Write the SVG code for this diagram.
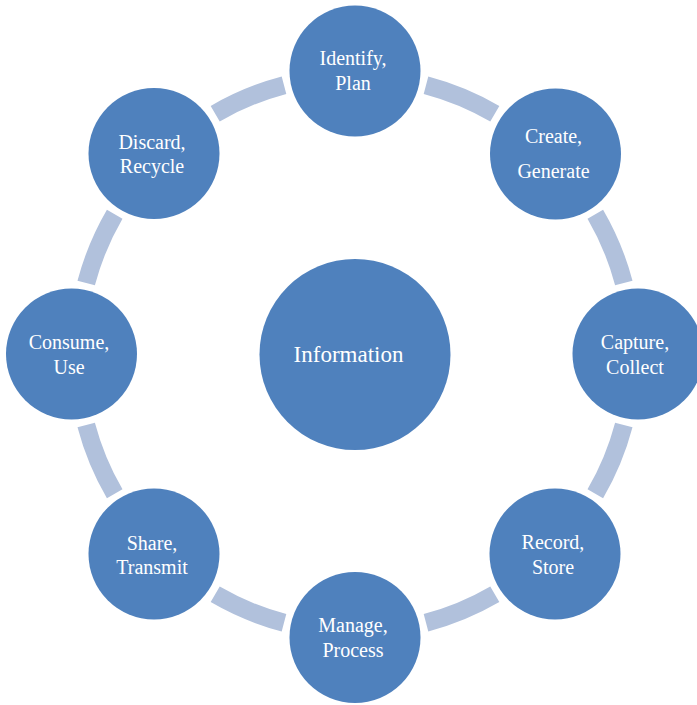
<svg xmlns="http://www.w3.org/2000/svg" width="697" height="705" viewBox="0 0 697 705">
<style>
.node{fill:#4F81BD;}
.arc{fill:none;stroke:#B1C1DC;stroke-width:18;stroke-linecap:butt;}
.lbl{font-family:"Liberation Serif","Times New Roman",serif;font-size:20px;fill:#FFFFFF;text-anchor:middle;}
.big{font-size:23px;}
</style>
<rect width="697" height="705" fill="#FFFFFF"/>
<g id="connectors">
<path class="arc" d="M426.0 85.2 A278 278 0 0 1 494.8 113.7"/>
<path class="arc" d="M595.3 214.2 A278 278 0 0 1 623.8 283.0"/>
<path class="arc" d="M623.8 425.0 A278 278 0 0 1 595.3 493.8"/>
<path class="arc" d="M494.8 594.3 A278 278 0 0 1 426.0 622.8"/>
<path class="arc" d="M284.0 622.8 A278 278 0 0 1 215.2 594.3"/>
<path class="arc" d="M114.7 493.8 A278 278 0 0 1 86.2 425.0"/>
<path class="arc" d="M86.2 283.0 A278 278 0 0 1 114.7 214.2"/>
<path class="arc" d="M215.2 113.7 A278 278 0 0 1 284.0 85.2"/>
</g>
<g id="information">
<circle class="node" cx="355" cy="354.5" r="95.5"/>
<text class="lbl big" x="348.5" y="361.5">Information</text>
</g>
<g id="identify">
<circle class="node" cx="355" cy="71" r="65.5"/>
<text class="lbl" x="353" y="65">Identify,</text>
<text class="lbl" x="353" y="90">Plan</text>
</g>
<g id="create">
<circle class="node" cx="555.5" cy="154" r="65.5"/>
<text class="lbl" x="553.5" y="143">Create,</text>
<text class="lbl" x="553.5" y="177.5">Generate</text>
</g>
<g id="capture">
<circle class="node" cx="638" cy="354" r="65.5"/>
<text class="lbl" x="635" y="349">Capture,</text>
<text class="lbl" x="635" y="373.5">Collect</text>
</g>
<g id="record">
<circle class="node" cx="555" cy="554" r="65.5"/>
<text class="lbl" x="553" y="549">Record,</text>
<text class="lbl" x="553" y="573.5">Store</text>
</g>
<g id="manage">
<circle class="node" cx="355" cy="637.5" r="65.5"/>
<text class="lbl" x="353" y="632">Manage,</text>
<text class="lbl" x="353" y="657">Process</text>
</g>
<g id="share">
<circle class="node" cx="154" cy="554" r="65.5"/>
<text class="lbl" x="152" y="550">Share,</text>
<text class="lbl" x="152" y="574">Transmit</text>
</g>
<g id="consume">
<circle class="node" cx="71.5" cy="354" r="65.5"/>
<text class="lbl" x="69" y="348.5">Consume,</text>
<text class="lbl" x="69" y="373.5">Use</text>
</g>
<g id="discard">
<circle class="node" cx="154" cy="153.5" r="65.5"/>
<text class="lbl" x="152" y="148.5">Discard,</text>
<text class="lbl" x="152" y="172.5">Recycle</text>
</g>
</svg>
